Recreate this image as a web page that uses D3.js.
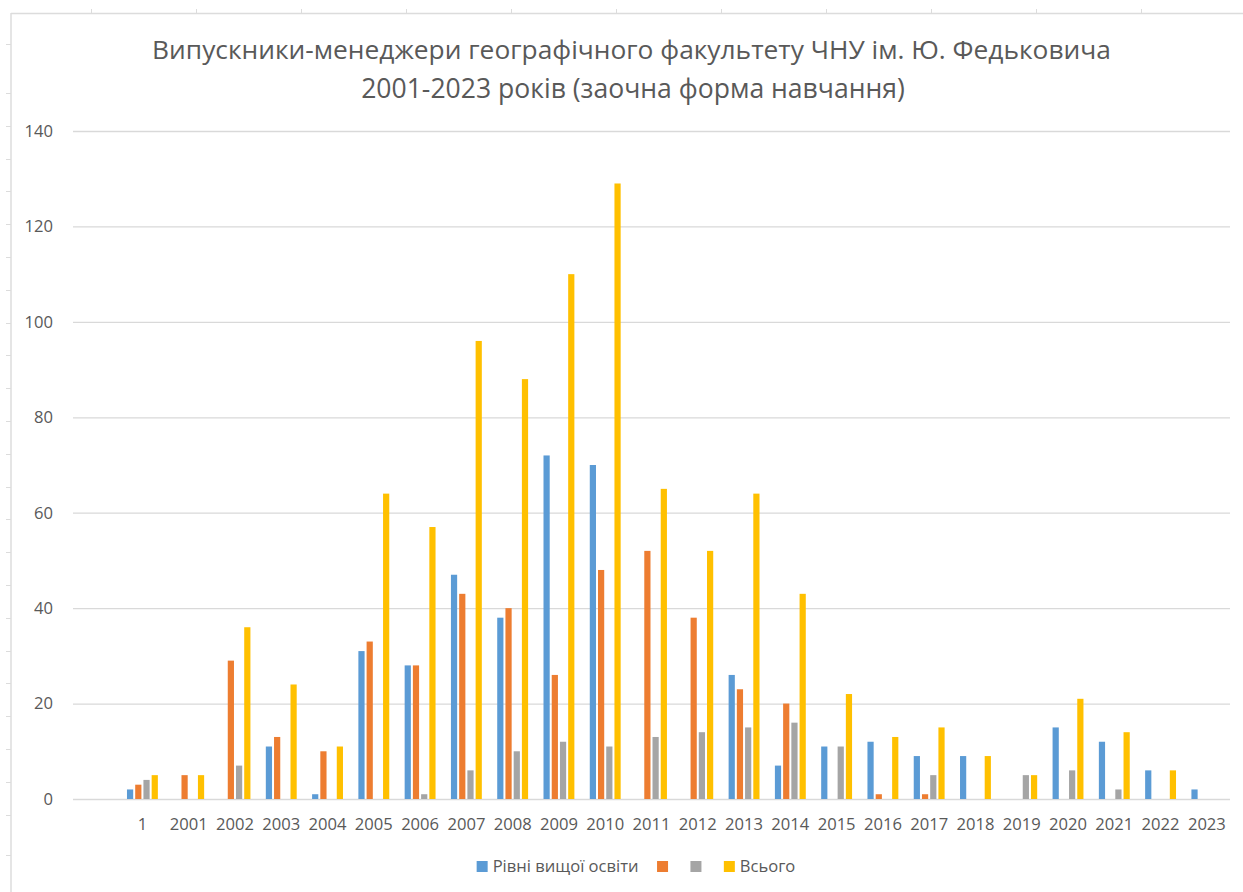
<!DOCTYPE html>
<html>
<head>
<meta charset="utf-8">
<script src="https://cdn.jsdelivr.net/npm/d3@7"></script>
<style>
  html, body { margin: 0; padding: 0; background: #fff; }
  svg { display: block; }
  text { font-family: "Open Sans", "Noto Sans", sans-serif; fill: #595959; }
</style>
</head>
<body>
<svg id="chart" width="1243" height="892"></svg>
<script>
// ---- data ----
const titleLines = [
  "Випускники-менеджери географічного факультету ЧНУ ім. Ю. Федьковича",
  "2001-2023 років (заочна форма навчання)"
];
const categories = ["", "1", "2001", "2002", "2003", "2004", "2005", "2006", "2007", "2008", "2009",
  "2010", "2011", "2012", "2013", "2014", "2015", "2016", "2017", "2018", "2019", "2020",
  "2021", "2022", "2023"];
const seriesNames = ["Рівні вищої освіти", "", "", "Всього"];
const seriesKeys = ["s1", "s2", "s3", "s4"];
const seriesColors = ["#5B9BD5", "#ED7D31", "#A5A5A5", "#FFC000"];
const valuesBlue   = [null, 2, 0, 0, 11, 1, 31, 28, 47, 38, 72, 70, 0, 0, 26, 7, 11, 12, 9, 9, 0, 15, 12, 6, 2];
const valuesOrange = [null, 3, 5, 29, 13, 10, 33, 28, 43, 40, 26, 48, 52, 38, 23, 20, 0, 1, 1, 0, 0, 0, 0, 0, 0];
const valuesGray   = [null, 4, 0, 7, 0, 0, 0, 1, 6, 10, 12, 11, 13, 14, 15, 16, 11, 0, 5, 0, 5, 6, 2, 0, 0];
const valuesTotal  = [null, 5, 5, 36, 24, 11, 64, 57, 96, 88, 110, 129, 65, 52, 64, 43, 22, 13, 15, 9, 5, 21, 14, 6, 0];
const yTicks = [0, 20, 40, 60, 80, 100, 120, 140];

const seriesValues = [valuesBlue, valuesOrange, valuesGray, valuesTotal];
const rows = categories.map((c, i) => {
  const r = { cat: c };
  seriesKeys.forEach((k, j) => r[k] = seriesValues[j][i]);
  return r;
});

// ---- layout ----
const svg = d3.select("#chart");
const W = 1243, H = 892;
const plot = { left: 73, right: 1230, top: 131, bottom: 799 };
const labelSize = 16.6;

// ruler decoration (page frame)
const rulerColor = "#DCDCDC";
const ruler = svg.append("g");
ruler.append("line").attr("x1", 11).attr("x2", W).attr("y1", 13.5).attr("y2", 13.5)
  .attr("stroke", rulerColor).attr("stroke-width", 1.5);
ruler.append("line").attr("x1", 11).attr("x2", 11).attr("y1", 13).attr("y2", H)
  .attr("stroke", rulerColor).attr("stroke-width", 1.5);
ruler.selectAll(".tt").data(d3.range(91, W, 105)).enter().append("line")
  .attr("x1", d => d + 0.5).attr("x2", d => d + 0.5).attr("y1", 9).attr("y2", 13)
  .attr("stroke", rulerColor);
const leftTicks = [44].concat(d3.range(93, 820, 32.8)).concat([855]);
ruler.selectAll(".lt").data(leftTicks).enter().append("line")
  .attr("x1", 6).attr("x2", 11).attr("y1", d => Math.round(d) + 0.5).attr("y2", d => Math.round(d) + 0.5)
  .attr("stroke", rulerColor);

// scales
const x0 = d3.scaleBand().domain(categories.map((c, i) => i))
  .range([plot.left, plot.right]).paddingInner(0.29).paddingOuter(0.145);
const x1 = d3.scaleBand().domain(seriesKeys).range([0, x0.bandwidth()])
  .paddingInner(0.245).paddingOuter(0.12);
const y = d3.scaleLinear().domain([0, 140]).range([plot.bottom, plot.top]);

// y axis with gridlines
const yAxis = d3.axisLeft(y).tickValues(yTicks)
  .tickSize(plot.right - plot.left).tickPadding(20);
const gy = svg.append("g").attr("transform", `translate(${plot.right},0)`).call(yAxis);
gy.select(".domain").remove();
gy.selectAll(".tick line").attr("stroke", "#D9D9D9").attr("stroke-width", 1.3);
gy.selectAll(".tick text").style("font-size", labelSize + "px").style("fill", "#595959")
  .attr("font-family", null);

// x axis labels
const xAxis = d3.axisBottom(x0).tickSize(0).tickPadding(19.5)
  .tickFormat(i => categories[i]);
const gx = svg.append("g").attr("transform", `translate(0,${plot.bottom})`).call(xAxis);
gx.select(".domain").remove();
gx.selectAll(".tick text").style("font-size", labelSize + "px").style("fill", "#595959")
  .attr("font-family", null);

// bars
const groups = svg.append("g").selectAll("g").data(rows).enter().append("g")
  .attr("transform", (d, i) => `translate(${x0(i)},0)`);
groups.selectAll("rect")
  .data(d => seriesKeys.map((k, j) => ({ key: k, j, v: d[k] })).filter(e => e.v))
  .enter().append("rect")
  .attr("x", e => x1(e.key))
  .attr("width", x1.bandwidth())
  .attr("y", e => y(e.v))
  .attr("height", e => y(0) - y(e.v))
  .attr("fill", e => seriesColors[e.j]);

// title (fit to measured width of original)
const titleTargets = [{ w: 959, cx: 631.5, base: 59 }, { w: 544, cx: 633, base: 98 }];
titleLines.forEach((t, i) => {
  const el = svg.append("text").attr("x", titleTargets[i].cx).attr("y", titleTargets[i].base)
    .attr("text-anchor", "middle").style("font-size", "26px").text(t);
  const w = el.node().getComputedTextLength();
  el.style("font-size", (26 * titleTargets[i].w / w) + "px");
});

// legend (font fitted so first label matches original width)
const probe = svg.append("text").style("font-size", "20px").text(seriesNames[0]);
const legendSize = 20 * 146 / probe.node().getComputedTextLength();
probe.remove();
const legend = svg.append("g");
let lx = 0;
seriesNames.forEach((n, j) => {
  const g = legend.append("g").attr("transform", `translate(${lx},0)`);
  g.append("rect").attr("x", 0).attr("y", -5.5).attr("width", 11).attr("height", 11)
    .attr("fill", seriesColors[j]);
  const t = g.append("text").attr("x", 16).attr("y", 0).attr("dy", "0.35em")
    .style("font-size", legendSize + "px").text(n);
  const tw = n ? t.node().getComputedTextLength() : 0;
  lx += 16 + tw + (n ? 18.5 : 17.4);
});
const bb = legend.node().getBBox();
legend.attr("transform", `translate(${636 - (bb.x + bb.width / 2)},866.5)`);
</script>
</body>
</html>
